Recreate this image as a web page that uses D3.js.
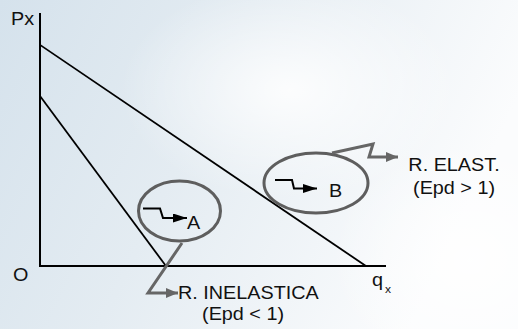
<!DOCTYPE html>
<html><head><meta charset="utf-8">
<script src="https://cdn.jsdelivr.net/npm/d3@7"></script>
<style>html,body{margin:0;padding:0;overflow:hidden;}svg{display:block;}</style>
</head><body>
<script>
// ---- data ----
const axisLabels = {y: "Px", x: "q", xSub: "x", origin: "O"};
const upperDemand = [[0, 87.4], [94.2, 0]];   // [quantity, price]
const lowerDemand = [[0, 67.2], [36.4, 0]];
const regionLetters = ["A", "B"];
const regionNames = ["R. INELASTICA", "R. ELAST."];
const regionConds = ["(Epd < 1)", "(Epd > 1)"];

const W = 518, H = 329;
const svg = d3.select("body").append("svg").attr("width", W).attr("height", H);
const defs = svg.append("defs");

// background
const lg = defs.append("linearGradient").attr("id", "bg").attr("x1", 0).attr("y1", 0).attr("x2", 1).attr("y2", 0.3);
lg.append("stop").attr("offset", 0).attr("stop-color", "#d5e2ec");
lg.append("stop").attr("offset", 0.45).attr("stop-color", "#e4ecf2");
lg.append("stop").attr("offset", 1).attr("stop-color", "#fbfcfd");
svg.append("rect").attr("width", W).attr("height", H).attr("fill", "url(#bg)");
const rg = defs.append("radialGradient").attr("id", "glow");
rg.append("stop").attr("offset", 0).attr("stop-color", "#ffffff").attr("stop-opacity", 0.85);
rg.append("stop").attr("offset", 1).attr("stop-color", "#ffffff").attr("stop-opacity", 0);
svg.append("ellipse").attr("cx", 290).attr("cy", 90).attr("rx", 170).attr("ry", 110).attr("fill", "url(#glow)");
svg.append("ellipse").attr("cx", 470).attr("cy", 260).attr("rx", 140).attr("ry", 120).attr("fill", "url(#glow)");

const x = d3.scaleLinear().domain([0, 100]).range([40, 386]);
const y = d3.scaleLinear().domain([0, 100]).range([266, 13]);

// axes
svg.append("path").attr("d", `M${x(0)},${y(100)}V${y(0)}H${x(100)}`)
  .attr("fill", "none").attr("stroke", "#000").attr("stroke-width", 2);

// demand lines
const line = d3.line().x(d => x(d[0])).y(d => y(d[1]));
[upperDemand, lowerDemand].forEach(dd => {
  svg.append("path").attr("d", line(dd)).attr("fill", "none").attr("stroke", "#000").attr("stroke-width", 1.8);
});

// markers
function marker(id, color, w, h) {
  defs.append("marker").attr("id", id).attr("viewBox", `0 0 ${w} ${h}`).attr("refX", w).attr("refY", h / 2)
    .attr("markerWidth", w).attr("markerHeight", h).attr("markerUnits", "userSpaceOnUse").attr("orient", "auto")
    .append("path").attr("d", `M0,0L${w},${h / 2}L0,${h}Z`).attr("fill", color);
}
marker("ga", "#666", 12, 10);
marker("ba", "#000", 14, 9);

const gray = "#5e5e5e";
// ellipses
const ells = [{cx: 179.5, cy: 211, rx: 41, ry: 30}, {cx: 316, cy: 183, rx: 52, ry: 30}];
ells.forEach(e => svg.append("ellipse").attr("cx", e.cx).attr("cy", e.cy).attr("rx", e.rx).attr("ry", e.ry)
  .attr("fill", "none").attr("stroke", gray).attr("stroke-width", 3));

// callouts
const callouts = [
  [[182, 243], [148, 293], [178, 293]],
  [[332, 153], [373, 144], [369, 157], [398, 157]]
];
callouts.forEach(c => svg.append("path").attr("d", d3.line()(c)).attr("fill", "none")
  .attr("stroke", "#666").attr("stroke-width", 3).attr("stroke-linejoin", "miter").attr("marker-end", "url(#ga)"));

// step arrows
const steps = [
  [[143, 208.5], [160, 208.5], [163, 218], [187, 218]],
  [[275, 180], [292, 180], [294, 188.5], [317, 188.5]]
];
steps.forEach(s => svg.append("path").attr("d", d3.line()(s)).attr("fill", "none")
  .attr("stroke", "#000").attr("stroke-width", 2).attr("marker-end", "url(#ba)"));

// text
const font = "'Liberation Sans', Arial, sans-serif";
function txt(s, tx, ty, size, anchor) {
  return svg.append("text").attr("transform", `translate(${tx},${ty}) scale(1.1,1)`)
    .attr("font-family", font).attr("font-size", size).attr("fill", "#111")
    .attr("text-anchor", anchor || "start").text(s);
}
txt(axisLabels.y, 11, 25, 18);
txt(axisLabels.origin, 13, 281, 18);
txt(axisLabels.x, 372, 286, 18);
txt(axisLabels.xSub, 385, 293, 11);
txt(regionLetters[0], 187, 229, 18);
txt(regionLetters[1], 329, 197, 18);
txt(regionNames[0], 178, 299, 18);
txt(regionConds[0], 243, 320, 18, "middle");
txt(regionNames[1], 454, 170.5, 18, "middle");
txt(regionConds[1], 454, 194, 18, "middle");
</script>
</body></html>
